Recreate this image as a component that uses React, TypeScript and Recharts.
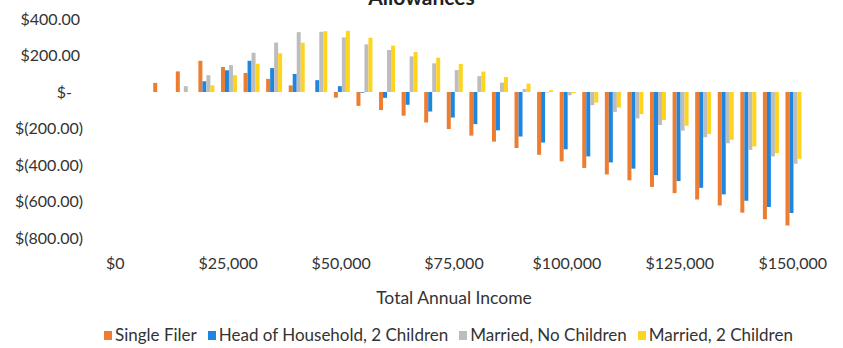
import React from 'react';
import { BarChart, Bar, XAxis, YAxis, Label } from 'recharts';

// Income brackets on the category axis ($5,000 steps)
const incomeLabels = [
  '$0', '$5,000', '$10,000', '$15,000', '$20,000', '$25,000', '$30,000', '$35,000',
  '$40,000', '$45,000', '$50,000', '$55,000', '$60,000', '$65,000', '$70,000', '$75,000',
  '$80,000', '$85,000', '$90,000', '$95,000', '$100,000', '$105,000', '$110,000', '$115,000',
  '$120,000', '$125,000', '$130,000', '$135,000', '$140,000', '$145,000', '$150,000',
];

// Allowance per filer type, in dollars
const singleFiler = [
  0, 0, 50, 113, 171, 137, 104, 72, 36, 0, -31, -76, -99, -130, -167, -203,
  -239, -272, -307, -344, -380, -416, -452, -484, -520, -554, -589, -622, -661, -697, -731,
];
const headOfHousehold = [
  0, 0, 0, 0, 59, 119, 171, 131, 99, 65, 32, -4, -32, -70, -107, -140,
  -176, -210, -244, -277, -314, -353, -386, -420, -455, -488, -525, -561, -596, -630, -663,
];
const marriedNoChildren = [
  0, 0, 0, 32, 92, 147, 215, 271, 328, 330, 299, 261, 230, 195, 157, 120,
  87, 51, 17, -3, -18, -72, -109, -145, -181, -212, -248, -281, -317, -353, -393,
];
const marriedTwoChildren = [
  0, 0, 0, 0, 37, 92, 155, 212, 270, 333, 335, 297, 254, 219, 188, 154,
  112, 82, 46, 10, -5, -58, -85, -121, -154, -185, -230, -262, -299, -335, -366,
];

const yTicks = [-800, -600, -400, -200, 0, 200, 400];

const series = [
  { key: 'single', name: 'Single Filer', color: '#ED7D31', values: singleFiler },
  { key: 'hoh', name: 'Head of Household, 2 Children', color: '#1F86DF', values: headOfHousehold },
  { key: 'married', name: 'Married, No Children', color: '#BDBDBD', values: marriedNoChildren },
  { key: 'married2', name: 'Married, 2 Children', color: '#FFD41C', values: marriedTwoChildren },
];

const data = incomeLabels.map((label, i) => {
  const row: Record<string, string | number> = { label };
  series.forEach((s) => {
    row[s.key] = s.values[i];
  });
  return row;
});

const TEXT = '#333333';
const FONT = 'Lato, "Open Sans", sans-serif';

function accounting(v: number): string {
  if (v === 0) return '$-';
  const s = Math.abs(v).toFixed(2);
  return v < 0 ? `$(${s})` : `$${s}`;
}

// Accounting-style labels: positive values and the dash keep trailing padding
const YTick = (props: any) => {
  const { x, y, payload } = props;
  const v = payload.value as number;
  const pad = v < 0 ? 0 : v === 0 ? 11 : 3;
  return (
    <text x={x - pad} y={y} dy="0.36em" textAnchor="end" fontSize={16} fill={TEXT} fontFamily={FONT}>
      {accounting(v)}
    </text>
  );
};

export default function App() {
  return (
    <div
      style={{
        position: 'absolute',
        left: 0,
        top: 0,
        width: 843,
        height: 348,
        background: '#ffffff',
        fontFamily: FONT,
        overflow: 'hidden',
      }}
    >
      <div
        style={{
          position: 'absolute',
          left: 0,
          width: 843,
          top: -15,
          textAlign: 'center',
          fontSize: 21,
          fontWeight: 700,
          color: '#222',
          lineHeight: '24px',
        }}
      >
        Allowances
      </div>
      <BarChart
        width={843}
        height={348}
        data={data}
        margin={{ top: 19, right: 39, bottom: 40, left: 0 }}
        barCategoryGap="18%"
        barGap={0}
      >
        <XAxis
          dataKey="label"
          interval={4}
          tickLine={false}
          axisLine={false}
          tickMargin={14}
          height={70}
          tick={{ fontSize: 16, fill: TEXT, fontFamily: FONT }}
        >
          <Label
            value="Total Annual Income"
            position="insideBottom"
            offset={4}
            style={{ fontSize: 17.5, fill: TEXT, fontFamily: FONT }}
          />
        </XAxis>
        <YAxis
          domain={[-800, 400]}
          ticks={yTicks}
          width={104}
          tickLine={false}
          axisLine={false}
          tickMargin={15}
          tick={<YTick />}
          allowDataOverflow
        />
        {series.map((s) => (
          <Bar key={s.key} dataKey={s.key} name={s.name} fill={s.color} isAnimationActive={false} />
        ))}
      </BarChart>
      <div
        style={{
          position: 'absolute',
          left: 104,
          top: 325,
          display: 'flex',
          alignItems: 'center',
          fontSize: 17,
          color: TEXT,
          whiteSpace: 'nowrap',
          lineHeight: '20px',
        }}
      >
        {series.map((s) => (
          <div key={s.key} style={{ display: 'flex', alignItems: 'center', marginRight: 11 }}>
            <span style={{ display: 'inline-block', width: 8, height: 9, background: s.color, marginRight: 3 }} />
            <span>{s.name}</span>
          </div>
        ))}
      </div>
    </div>
  );
}
